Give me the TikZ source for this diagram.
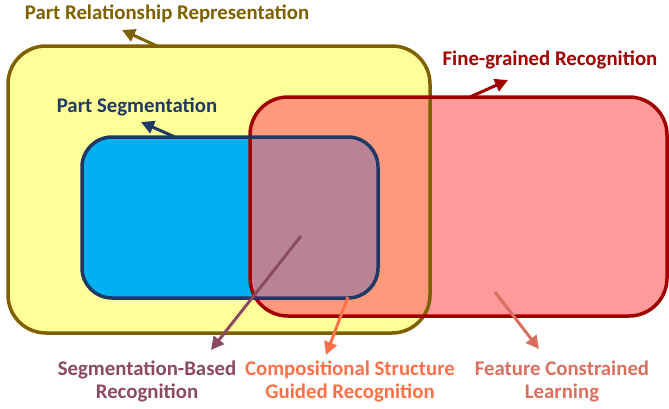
\documentclass[tikz,border=0pt]{standalone}
\usepackage{fontspec}
\setsansfont{Carlito}
\usetikzlibrary{positioning, arrows.meta}
\definecolor{relline}{RGB}{127,96,0}
\definecolor{relfill}{RGB}{255,255,153}
\definecolor{segline}{RGB}{31,56,100}
\definecolor{segfill}{RGB}{0,176,240}
\definecolor{fineline}{RGB}{160,0,0}
\definecolor{finefill}{RGB}{255,115,115}
\definecolor{sbrcol}{RGB}{140,74,98}
\definecolor{csgcol}{RGB}{255,112,72}
\definecolor{fclcol}{RGB}{217,112,94}
\tikzset{
  >={Triangle[length=13pt, width=13pt]},
  x=1pt, y=-1pt,
  panel/.style={rectangle, outer sep=0pt, inner sep=0pt},
  rim/.style={line width=3.5pt},
  tag/.style={font=\sffamily\bfseries\fontsize{20.8}{23}\selectfont, align=center, inner sep=0pt},
  pointer/.style={->, line width=3pt},
}

\begin{document}
\begin{tikzpicture}
      \useasboundingbox (0,0) rectangle (669,408);

      % areas
      \node[panel, fill=relfill, rounded corners=38pt, minimum width=422pt, minimum height=287pt] (rel)  at (219,189.5) {};
      \node[panel, fill=segfill, rounded corners=30pt, minimum width=296pt, minimum height=161pt] (seg)  at (230,217.5) {};
      \node[panel, fill=finefill, fill opacity=0.72, rounded corners=38pt, minimum width=417pt, minimum height=219pt] (fine) at (458.5,206.5) {};

      \draw[rim, relline,  rounded corners=38pt] (rel.north west)  rectangle (rel.south east);
      \draw[rim, fineline, rounded corners=38pt] (fine.north west) rectangle (fine.south east);
      \draw[rim, segline,  rounded corners=30pt] (seg.north west)  rectangle (seg.south east);

      % labels
      \node[tag, text=relline]  (relname)  at (167,14)  {Part Relationship Representation};
      \node[tag, text=segline]  (segname)  at (137,107) {Part Segmentation};
      \node[tag, text=fineline] (finename) at (550,60)  {Fine-grained Recognition};
      \node[tag, text=sbrcol]   (sbrname)  at (147,381.5) {Segmentation-Based\\Recognition};
      \node[tag, text=csgcol]   (csgname)  at (350,381.5) {Compositional Structure\\Guided Recognition};
      \node[tag, text=fclcol]   (fclname)  at (562,381.5) {Feature Constrained\\Learning};

      % pointers
      \coordinate (relfoot)  at (157,46);  \coordinate (reltip)  at (122,30);
      \coordinate (segfoot)  at (175,137); \coordinate (segtip)  at (141,122);
      \coordinate (finefoot) at (470,97);  \coordinate (finetip) at (508,80);
      \coordinate (sbrfoot)  at (301,236); \coordinate (sbrtip)  at (211,350);
      \coordinate (csgfoot)  at (348,297); \coordinate (csgtip)  at (326,355);
      \coordinate (fclfoot)  at (495,292); \coordinate (fcltip)  at (539,349);

      \draw[pointer, relline]  (relfoot)  -- (reltip);
      \draw[pointer, segline]  (segfoot)  -- (segtip);
      \draw[pointer, fineline] (finefoot) -- (finetip);
      \draw[pointer, sbrcol]   (sbrfoot)  -- (sbrtip);
      \draw[pointer, csgcol]   (csgfoot)  -- (csgtip);
      \draw[pointer, fclcol]   (fclfoot)  -- (fcltip);
    \end{tikzpicture}
\end{document}
